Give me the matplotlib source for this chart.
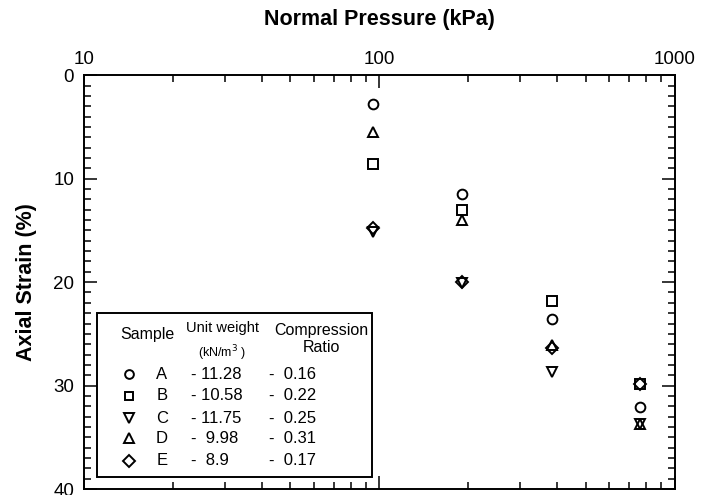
import matplotlib.pyplot as plt
from matplotlib.patches import Rectangle
from matplotlib.ticker import FixedLocator, LogLocator, NullFormatter

plt.rcParams["font.family"] = ["Liberation Sans", "DejaVu Sans"]

# normal pressure (kPa) of the four load steps
pressure = [95, 191, 384, 765]

# axial strain (%) for each sample
strain_a = [2.8, 11.5, 23.6, 32.1]
strain_b = [8.6, 13.0, 21.8, 29.8]
strain_c = [15.2, 20.1, 28.7, 33.7]
strain_d = [5.5, 14.0, 26.1, 33.7]
strain_e = [14.8, 20.0, 26.4, 29.8]

samples = ["A", "B", "C", "D", "E"]
unit_weight = ["- 11.28", "- 10.58", "- 11.75", "-  9.98", "-  8.9"]
comp_ratio = ["-  0.16", "-  0.22", "-  0.25", "-  0.31", "-  0.17"]
markers = ["o", "s", "v", "^", "D"]
sizes = [7, 6.5, 7.5, 7.5, 6.5]

fig = plt.figure(figsize=(7.11, 4.95), dpi=100)
ax = fig.add_axes([0.118, 0.012, 0.831, 0.836])

for y, m, s in zip([strain_a, strain_b, strain_c, strain_d, strain_e], markers, sizes):
    ax.plot(pressure, y, linestyle="none", marker=m, markersize=s,
            markerfacecolor="none", markeredgecolor="black", markeredgewidth=1.4)

ax.set_xscale("log")
ax.set_xlim(10, 1000)
ax.set_ylim(40, 0)
ax.set_xticks([10, 100, 1000])
ax.set_xticklabels(["10", "100", "1000"])
ax.xaxis.set_minor_locator(LogLocator(base=10, subs=range(2, 10)))
ax.xaxis.set_minor_formatter(NullFormatter())
ax.set_yticks([0, 10, 20, 30, 40])
ax.yaxis.set_minor_locator(FixedLocator(range(0, 41)))

ax.tick_params(which="both", direction="in", top=True, right=True,
               labeltop=True, labelbottom=False, width=1.1, labelsize=13.5)
ax.tick_params(which="major", length=9.5)
ax.tick_params(which="minor", length=5)
ax.tick_params(axis="x", pad=5)
ax.tick_params(axis="y", pad=7)
for sp in ax.spines.values():
    sp.set_linewidth(1.4)

ax.xaxis.set_label_position("top")
ax.set_xlabel("Normal Pressure (kPa)", fontsize=15.5, fontweight="bold", labelpad=19)
ax.set_ylabel("Axial Strain (%)", fontsize=15.5, fontweight="bold", labelpad=12)

# table-like legend box
ax.add_patch(Rectangle((0.022, 0.029), 0.465, 0.396, transform=ax.transAxes,
                       facecolor="white", edgecolor="black", linewidth=1.4, zorder=3))
ax.text(0.108, 0.374, "Sample", transform=ax.transAxes, ha="center", va="center",
        fontsize=11.5, zorder=4)
ax.text(0.234, 0.389, "Unit weight", transform=ax.transAxes, ha="center", va="center",
        fontsize=10.5, zorder=4)
ax.text(0.234, 0.329, "(kN/m$^3$ )", transform=ax.transAxes, ha="center", va="center",
        fontsize=9, zorder=4)
ax.text(0.402, 0.384, "Compression", transform=ax.transAxes, ha="center", va="center",
        fontsize=11.5, zorder=4)
ax.text(0.402, 0.341, "Ratio", transform=ax.transAxes, ha="center", va="center",
        fontsize=11.5, zorder=4)

row_y = [0.278, 0.225, 0.171, 0.123, 0.068]
for i, ry in enumerate(row_y):
    ax.plot(0.076, ry, transform=ax.transAxes, marker=markers[i], markersize=sizes[i] * 0.9,
            markerfacecolor="none", markeredgecolor="black", markeredgewidth=1.4,
            zorder=4, clip_on=False)
    ax.text(0.132, ry, samples[i], transform=ax.transAxes, ha="center", va="center",
            fontsize=12, zorder=4)
    ax.text(0.181, ry, unit_weight[i], transform=ax.transAxes, ha="left", va="center",
            fontsize=12, zorder=4)
    ax.text(0.313, ry, comp_ratio[i], transform=ax.transAxes, ha="left", va="center",
            fontsize=12, zorder=4)

fig.savefig("out.png", dpi=100)
